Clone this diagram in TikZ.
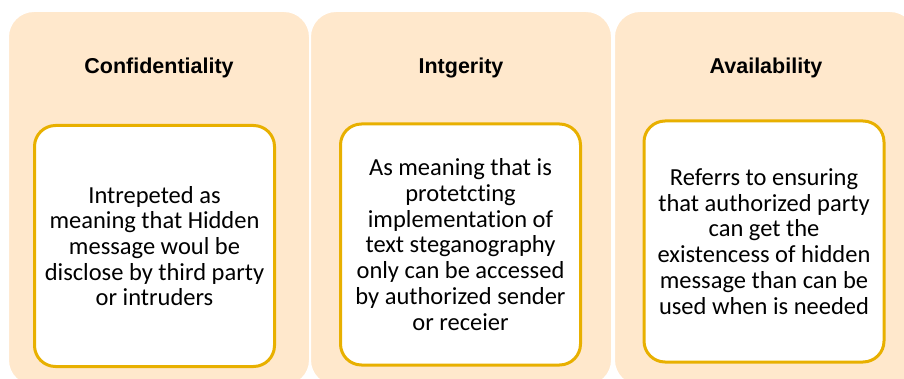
\documentclass[tikz,border=0pt]{standalone}
\usepackage{fontspec}
\setmainfont{Carlito}[Ligatures={NoCommon}]
\newfontfamily\headfont{Liberation Sans}
\usepackage{tikz}

\definecolor{peach}{HTML}{FFE8CC}
\definecolor{gold}{HTML}{E8B000}

\begin{document}
\begin{tikzpicture}[x=1pt,y=1pt,
  panel/.style={draw=white,line width=2pt,fill=peach,rounded corners=26pt,
    minimum width=302pt,minimum height=375pt,inner sep=0pt},
  head/.style={font=\headfont\bfseries\fontsize{21.5}{25}\selectfont,anchor=base},
  card/.style={draw=gold,line width=3pt,fill=white,rounded corners=21pt,
    minimum width=240pt,minimum height=241pt,inner sep=0pt,align=center,
    font=\fontsize{24.5}{25.7}\selectfont}]
  \clip (0,0) rectangle (904,378);

  \node[panel] (1) at (159,179.5) {};
  \node[panel] (2) at (461,179.5) {};
  \node[panel] (3) at (765,179.5) {};

  \node[head] (4) at (159,304) {Confidentiality};
  \node[head] (5) at (461,304) {Intgerity};
  \node[head] (6) at (766,304) {Availability};

  \node[card] (7) at (154.5,132) {Intrepeted as\\meaning that Hidden\\message woul be\\disclose by third party\\or intruders};
  \node[card] (8) at (460.5,133.5) {As meaning that is\\protetcting\\implementation of\\text steganography\\only can be accessed\\by authorized sender\\or receier};
  \node[card] (9) at (764,136.5) {Referrs to ensuring\\that authorized party\\can get the\\existencess of hidden\\message than can be\\used when is needed};
\end{tikzpicture}
\end{document}
